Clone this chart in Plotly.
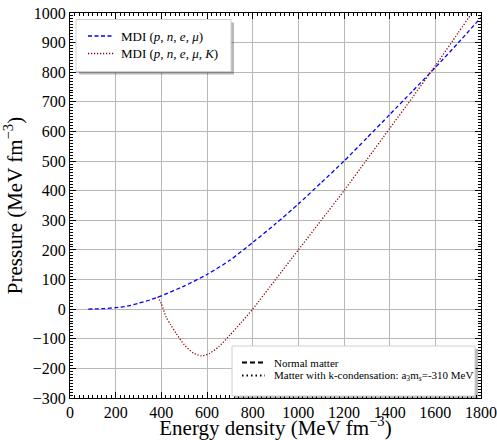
import plotly.graph_objects as go

# Normal matter: MDI (p, n, e, mu)
eps_normal = [80, 150, 200, 250, 300, 350, 400, 500, 600, 700, 800, 900, 1000,
              1100, 1200, 1300, 1400, 1500, 1600, 1700, 1800]
p_normal = [0, 2, 5, 10, 20, 31, 45, 78, 117, 165, 225, 288, 355,
            427, 500, 578, 657, 736, 816, 899, 985]

# Kaon condensed matter: MDI (p, n, e, mu, K)
eps_kaon = [384, 400, 421, 440, 465, 500, 540, 576, 610, 650, 700, 750, 800,
            900, 1000, 1100, 1200, 1300, 1400, 1500, 1600, 1700, 1760, 1800]
p_kaon = [42, 18, -27, -52, -82, -120, -148, -158, -150, -128, -88, -45, 0,
          100, 200, 300, 400, 505, 610, 715, 822, 933, 1000, 1045]

x_ticks = [0, 200, 400, 600, 800, 1000, 1200, 1400, 1600, 1800]
y_ticks = [-300, -200, -100, 0, 100, 200, 300, 400, 500, 600, 700, 800, 900, 1000]

legend1_labels = ["MDI (<i>p</i>, <i>n</i>, <i>e</i>, <i>μ</i>)",
                  "MDI (<i>p</i>, <i>n</i>, <i>e</i>, <i>μ</i>, <i>K</i>)"]
legend2_labels = ["Normal matter",
                  "Matter with k-condensation: a<sub>3</sub>m<sub><i>s</i></sub>=-310 MeV"]

FONT = "Liberation Serif, Times New Roman, serif"
BLUE = "#0000ff"
RED = "#8b0000"
BLUE_DASH = "4px,2.5px"
RED_DOT = "1.2px,1.8px"

# plot area in pixels
L, R, T, B = 70, 481, 13, 398
W, H = 497, 440


def px(x):
    return (x - L) / (R - L)


def py(y):
    return (B - y) / (B - T)


fig = go.Figure()
fig.add_trace(go.Scatter(x=eps_normal, y=p_normal, mode="lines", name=legend1_labels[0],
                         line=dict(color=BLUE, dash=BLUE_DASH, width=1.3, shape="spline", smoothing=0.6)))
fig.add_trace(go.Scatter(x=eps_kaon, y=p_kaon, mode="lines", name=legend1_labels[1],
                         line=dict(color=RED, dash=RED_DOT, width=1.3, shape="spline", smoothing=0.6)))

axis_common = dict(showline=True, linecolor="black", linewidth=1, mirror="allticks",
                   ticks="inside", ticklen=6, tickwidth=1, tickcolor="black",
                   showgrid=True, gridcolor="#b8b8b8", gridwidth=1.2, zeroline=False,
                   automargin=False,
                   tickfont=dict(family=FONT, size=16, color="black"))

fig.update_xaxes(range=[0, 1800], tickvals=x_ticks,
                 title=dict(text="Energy density (MeV fm<sup>−3</sup>)",
                            font=dict(family=FONT, size=21, color="black"), standoff=8),
                 minor=dict(dtick=20, ticks="inside", ticklen=3, tickcolor="black", showgrid=False),
                 **axis_common)
fig.update_yaxes(range=[-300, 1000], tickvals=y_ticks,
                 title=dict(text="Pressure (MeV fm<sup>−3</sup>)",
                            font=dict(family=FONT, size=21, color="black"), standoff=8),
                 minor=dict(dtick=10, ticks="inside", ticklen=3, tickcolor="black", showgrid=False),
                 **axis_common)

shapes = []
annotations = []


def legend_box(x0, y0, x1, y1):
    shapes.append(dict(type="rect", xref="paper", yref="paper",
                       x0=px(x0 + 3), x1=px(x1 + 3), y0=py(y1 + 3), y1=py(y0 + 3),
                       fillcolor="rgba(0,0,0,0.28)", line=dict(width=0), layer="above"))
    shapes.append(dict(type="rect", xref="paper", yref="paper",
                       x0=px(x0), x1=px(x1), y0=py(y1), y1=py(y0),
                       fillcolor="white", line=dict(color="#d0d0d0", width=1), layer="above"))


def legend_entry(xs0, xs1, xt, yc, color, dash, width, text, size):
    shapes.append(dict(type="line", xref="paper", yref="paper",
                       x0=px(xs0), x1=px(xs1), y0=py(yc), y1=py(yc),
                       line=dict(color=color, dash=dash, width=width), layer="above"))
    annotations.append(dict(xref="paper", yref="paper", x=px(xt), y=py(yc),
                            xanchor="left", yanchor="middle", showarrow=False,
                            text=text, font=dict(family=FONT, size=size, color="black")))


legend_box(76, 19.5, 231, 71.5)
legend_entry(88, 114, 119, 36, BLUE, BLUE_DASH, 1.3, legend1_labels[0], 13)
legend_entry(88, 114, 119, 53.5, RED, RED_DOT, 1.3, legend1_labels[1], 13)

legend_box(232, 346, 475, 396)
legend_entry(242, 265, 272, 362.5, "black", "5px,3px", 1.8, legend2_labels[0], 11)
legend_entry(242, 265, 272, 375.5, "black", "1.5px,3px", 1.8, legend2_labels[1], 11)

fig.update_layout(
    width=W, height=H,
    margin=dict(l=L, r=W - R, t=T, b=H - B),
    paper_bgcolor="white", plot_bgcolor="white",
    font=dict(family=FONT, color="black"),
    showlegend=False,
    shapes=shapes,
    annotations=annotations,
)

fig.write_html("out.html", config={"displayModeBar": False},
               post_script="document.body.style.margin='0';document.body.style.padding='0';"
                           "document.body.style.overflow='hidden';")
